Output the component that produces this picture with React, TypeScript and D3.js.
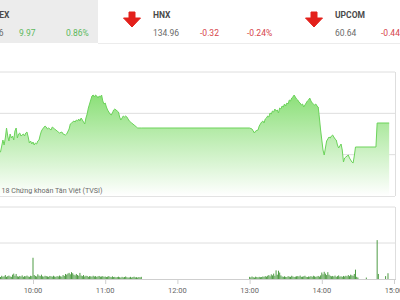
import React from "react";
import * as d3 from "d3";

// ---------- header data ----------
const indexNames = ["VN-INDEX", "HNX", "UPCOM"];
const indexValues = ["1,164.26", "134.96", "60.64"];
const indexChanges = ["9.97", "-0.32", "-0.44"];
const indexPercents = ["0.86%", "-0.24%", "-0.44%"];

// ---------- price series ----------
const priceTimes = [
  "9:15","9:20","9:25","9:30","9:33","9:35","9:36","9:37","9:38","9:39",
  "9:40","9:41","9:42","9:43","9:44","9:45","9:46","9:47","9:48","9:49",
  "9:50","9:52","9:53","9:54","9:55","9:56","9:57","9:58","9:59","10:00",
  "10:01","10:02","10:03","10:04","10:05","10:06","10:07","10:08","10:10","10:11",
  "10:12","10:13","10:15","10:16","10:18","10:20","10:22","10:24","10:25","10:27",
  "10:28","10:30","10:31","10:32","10:34","10:35","10:36","10:37","10:38","10:39",
  "10:40","10:41","10:42","10:43","10:44","10:45","10:46","10:47","10:48","10:49",
  "10:50","10:51","10:52","10:53","10:54","10:55","10:56","10:57","10:58","10:59",
  "11:00","11:01","11:02","11:03","11:04","11:05","11:06","11:07","11:08","11:09",
  "11:10","11:11","11:12","11:13","11:14","11:15","11:16","11:17","11:18","11:19",
  "11:20","11:22","11:24","11:26","11:27","11:30",
  "13:00","13:02","13:03","13:04","13:05","13:07","13:08","13:09","13:10","13:11",
  "13:12","13:13","13:14","13:15","13:16","13:17","13:18","13:19","13:20","13:21",
  "13:22","13:23","13:24","13:25","13:26","13:27","13:28","13:29","13:30","13:31",
  "13:32","13:33","13:34","13:35","13:36","13:37","13:38","13:39","13:40","13:41",
  "13:42","13:43","13:44","13:45","13:46","13:47","13:48","13:49","13:50","13:51",
  "13:52","13:53","13:54","13:55","13:56","13:57","13:58","13:59","14:00","14:01",
  "14:02","14:03","14:04","14:05","14:06","14:07","14:08","14:09","14:10","14:11",
  "14:12","14:13","14:14","14:15","14:16","14:17","14:18","14:19","14:20","14:21",
  "14:22","14:23","14:24","14:25","14:26","14:27","14:28","14:45","14:46","14:56"
];
const priceValues = [
  1159.6,1159.4,1159.5,1159.3,1159.4,1160.6,1160.1,1160.8,1161.8,1161.0,
  1160.5,1161.2,1160.8,1161.0,1160.6,1161.5,1161.8,1160.8,1161.2,1161.3,
  1161.0,1161.2,1161.0,1161.3,1161.4,1160.9,1160.3,1160.5,1160.2,1160.4,
  1160.1,1160.3,1160.2,1160.5,1160.6,1161.1,1161.5,1161.7,1162.0,1161.9,
  1161.7,1161.8,1161.6,1161.9,1161.7,1161.5,1161.3,1161.4,1161.2,1161.1,
  1161.2,1161.7,1162.2,1162.3,1162.5,1162.4,1162.6,1162.5,1162.7,1162.5,
  1162.8,1162.6,1162.4,1162.2,1162.8,1163.2,1163.8,1164.2,1164.6,1165.0,
  1165.1,1164.9,1165.1,1165.0,1164.8,1165.0,1164.9,1165.1,1164.5,1164.2,
  1164.3,1163.9,1163.6,1163.4,1163.2,1163.1,1163.3,1163.6,1163.7,1163.6,
  1163.5,1163.4,1162.9,1162.6,1162.8,1163.0,1162.9,1163.0,1162.9,1162.7,
  1162.5,1162.3,1162.1,1161.9,1161.8,1161.8,
  1161.8,1161.7,1161.5,1161.3,1161.5,1161.6,1162.0,1162.2,1162.4,1162.5,
  1162.3,1162.7,1162.8,1163.0,1162.9,1163.3,1163.2,1163.5,1163.4,1163.7,
  1163.5,1163.6,1163.3,1163.8,1163.7,1164.0,1163.9,1164.2,1164.0,1164.3,
  1164.2,1164.6,1164.5,1164.8,1164.9,1165.1,1164.9,1164.7,1164.6,1164.4,
  1164.3,1164.1,1164.2,1163.9,1164.1,1164.3,1164.5,1164.6,1164.8,1164.5,
  1164.3,1164.2,1164.1,1164.2,1164.0,1163.9,1162.8,1161.6,1160.6,1159.6,
  1159.1,1159.8,1160.5,1160.7,1160.9,1160.8,1161.0,1161.1,1160.9,1160.7,
  1160.6,1160.1,1159.8,1160.0,1160.2,1159.6,1158.4,1158.8,1158.9,1159.0,
  1159.1,1158.8,1158.6,1158.4,1158.3,1159.0,1159.9,1159.9,1162.3,1162.3
];

// ---------- volume series (thousand shares per minute) ----------
const morningStart = "9:30";
const morningVolume = [
  70,60,85,55,90,65,75,110,60,80,
  95,70,60,120,150,90,140,75,65,85,
  70,100,60,80,75,95,70,60,90,80,
  590,110,85,70,130,95,80,120,75,65,
  90,80,70,60,85,75,65,90,70,60,
  80,70,95,75,65,110,85,140,120,150,
  170,130,190,160,120,100,140,110,90,170,
  95,80,110,70,90,85,60,80,75,65,
  90,70,80,60,75,85,65,70,80,60,
  70,55,65,80,60,50,75,55,60,45,
  55,65,50,40,60,45,55,70,50,40,
  45,60,40,55,65,45,50,40,55,45,
  60
];
const afternoonStart = "13:00";
const afternoonVolume = [
  60,45,70,50,40,65,55,45,60,50,
  55,70,60,80,65,90,110,75,130,100,
  150,90,240,120,230,180,100,70,60,75,
  60,55,80,65,60,90,70,55,65,75,
  80,70,95,60,65,75,90,60,55,70,
  65,80,60,90,75,60,70,85,65,100,
  180,130,200,150,110,190,120,90,75,85,
  70,95,60,80,100,65,75,60,85,70,
  90,75,110,80,120,100,90,140,260,60,
  40
];
const closingTimes = ["14:37", "14:46", "14:47", "14:53", "14:55"];
const closingVolume = [40, 1080, 140, 80, 160];

const hourTicks = ["10:00", "11:00", "12:00", "13:00", "14:00", "15:00"];
const caption = "18 Chứng khoán Tân Việt (TVSI)";

const toMin = (s: string) => {
  const [h, m] = s.split(":").map(Number);
  return h * 60 + m;
};

const FONT = "Roboto, 'Noto Sans', sans-serif";

function DownArrow({ cx }: { cx: number }) {
  const d = `M${cx - 3},12 L${cx + 3},12 L${cx + 3},18 L${cx + 8.5},18 L${cx},27 L${cx - 8.5},18 L${cx - 3},18 Z`;
  return <path d={d} fill="#e3201b" stroke="#e3201b" strokeWidth={1} strokeLinejoin="round" />;
}

export default function App() {
  const W = 400;
  const H = 300;
  const right = 395;

  const x = d3.scaleLinear().domain([toMin("10:00"), toMin("15:00")]).range([33, 394]);

  // price panel
  const pTop = 72, pBottom = 196;
  const yP = d3.scaleLinear().domain([1155.0, 1167.4]).range([pBottom, pTop]);
  const priceData = priceTimes.map((t, i) => ({ t: toMin(t), v: priceValues[i] }));
  const area = d3.area<{ t: number; v: number }>()
    .x((d) => x(d.t)).y0(pBottom).y1((d) => yP(d.v));
  const line = d3.line<{ t: number; v: number }>().x((d) => x(d.t)).y((d) => yP(d.v));
  const [lo, hi] = yP.domain();
  const priceGrid = [1, 2, 3].map((i) => lo + (i * (hi - lo)) / 3);

  // volume panel
  const vTop = 207, vBottom = 279;
  const yV = d3.scaleLinear().domain([0, 2000]).range([vBottom, vTop]);
  const volGrid = [1000, 2000];
  const volData = [
    ...morningVolume.map((v, i) => ({ t: toMin(morningStart) + i, v })),
    ...afternoonVolume.map((v, i) => ({ t: toMin(afternoonStart) + i, v })),
    ...closingTimes.map((t, i) => ({ t: toMin(t), v: closingVolume[i] })),
  ];

  // header columns: name / value left edges (first column is cropped on the left)
  const nameX = [9.5, 153, 335];
  const nameAnchor = ["end", "start", "start"];
  const valueX = [3.5, 153, 335];
  const changeX = [19, 200, 381];
  const pctX = [66, 247, 428];

  return (
    <svg width={W} height={H} style={{ position: "absolute", left: 0, top: 0, background: "#fff" }} fontFamily={FONT}>
      <defs>
        <linearGradient id="pg" gradientUnits="userSpaceOnUse" x1={0} y1={90} x2={0} y2={pBottom}>
          <stop offset="0" stopColor="#86de72" />
          <stop offset="1" stopColor="#ffffff" />
        </linearGradient>
        <clipPath id="pc">
          <rect x={0} y={pTop} width={right} height={pBottom - pTop} />
        </clipPath>
      </defs>

      {/* header */}
      <rect x={0} y={0} width={98} height={43} fill="#ececec" />
      <line x1={98} x2={W} y1={43.5} y2={43.5} stroke="#ececec" />
      {indexNames.map((n, i) => (
        <g key={n}>
          <text x={nameX[i]} y={18} fontSize={8.5} fontWeight="bold" fill="#4a4a4a" textAnchor={nameAnchor[i]}>{n}</text>
          <text x={valueX[i]} y={36} fontSize={8.5} fill="#6a6a6a" textAnchor={nameAnchor[i]}>{indexValues[i]}</text>
          <text x={changeX[i]} y={36} fontSize={8.5} fill={indexChanges[i].startsWith("-") ? "#d6454a" : "#5cb85c"}>{indexChanges[i]}</text>
          <text x={pctX[i]} y={36} fontSize={8.5} fill={indexChanges[i].startsWith("-") ? "#d6454a" : "#5cb85c"}>{indexPercents[i]}</text>
        </g>
      ))}
      <DownArrow cx={132} />
      <DownArrow cx={314} />

      {/* price panel grid */}
      {priceGrid.map((g) => (
        <line key={g} x1={0} x2={right} y1={yP(g)} y2={yP(g)} stroke="#dedede" />
      ))}
      <line x1={0} x2={right} y1={pBottom + 0.5} y2={pBottom + 0.5} stroke="#e3e3e3" />
      <line x1={right + 0.5} x2={right + 0.5} y1={pTop} y2={pBottom} stroke="#dedede" />
      <g clipPath="url(#pc)">
        <path d={area(priceData) || ""} fill="url(#pg)" />
        <path d={line(priceData) || ""} fill="none" stroke="#6cd35b" strokeWidth={1} />
      </g>
      <text x={1.5} y={193} fontSize={8} fill="#6a6a6a" textLength={101} lengthAdjust="spacingAndGlyphs">{caption}</text>

      {/* volume panel */}
      {volGrid.map((g) => (
        <line key={g} x1={0} x2={right} y1={yV(g)} y2={yV(g)} stroke="#dedede" />
      ))}
      <line x1={right + 0.5} x2={right + 0.5} y1={vTop} y2={vBottom} stroke="#dedede" />
      {volData.map((d) => (
        <rect key={d.t} x={x(d.t) - 0.5} width={1} y={yV(d.v)} height={vBottom - yV(d.v)} fill="#4f9c45" />
      ))}
      <line x1={0} x2={right + 1} y1={vBottom + 0.5} y2={vBottom + 0.5} stroke="#cfcfcf" />
      {hourTicks.map((t) => (
        <g key={t}>
          <line x1={x(toMin(t)) + 0.5} x2={x(toMin(t)) + 0.5} y1={vBottom} y2={vBottom + 5} stroke="#cfcfcf" />
          <text x={x(toMin(t))} y={293} fontSize={7.5} textAnchor="middle" fill="#666">{t}</text>
        </g>
      ))}
    </svg>
  );
}
